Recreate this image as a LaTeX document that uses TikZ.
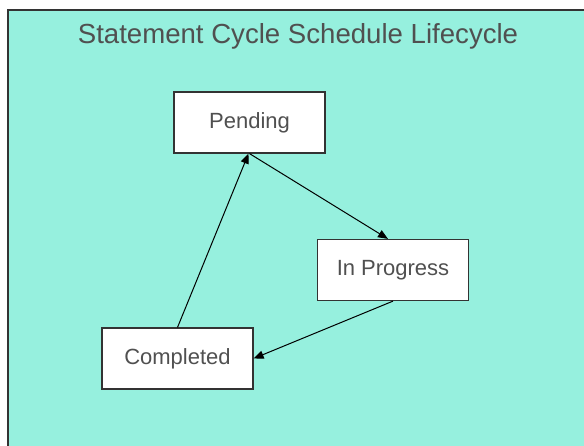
\documentclass[tikz,border=0pt]{standalone}
\usepackage{fontspec}
\setmainfont{Liberation Sans}
\usetikzlibrary{arrows.meta}
\definecolor{lifebg}{RGB}{150,240,222}
\definecolor{txtgray}{RGB}{80,80,80}
\tikzset{
  state/.style={draw=black!80, line width=1.2pt, fill=white, minimum width=151pt,
    minimum height=61pt, inner sep=0pt, text=txtgray, font=\fontsize{22}{26}\selectfont},
  trans/.style={-{Triangle[length=10pt,width=8pt]}, line width=1pt}
}
\begin{document}
\begin{tikzpicture}[x=1pt,y=-1pt]
    \useasboundingbox (0,0) rectangle (584,445);
    \clip (0,0) rectangle (584,445);
    \draw[fill=lifebg, draw=black!80, line width=1.5pt] (8,10) rectangle (600,460);
    % Title of the lifecycle.
        \node[text=txtgray, font=\fontsize{27.6}{32}\selectfont] (title) at (298,36) {Statement Cycle Schedule Lifecycle};
    % Below nodes are the states.
        \node[state] (pend) at (249.5,122.5) {Pending};
        \node[state] (prog) at (393,270) {In Progress};
        \node[state] (comp) at (177.5,358.5) {Completed};
    % This draws the transitions.
        \draw[trans] (pend.south) -- ([xshift=-5pt]prog.north);
        \draw[trans] (comp.north) -- ([xshift=-1pt]pend.south);
        \draw[trans] (prog.south) -- (comp.east);
\end{tikzpicture}
\end{document}
